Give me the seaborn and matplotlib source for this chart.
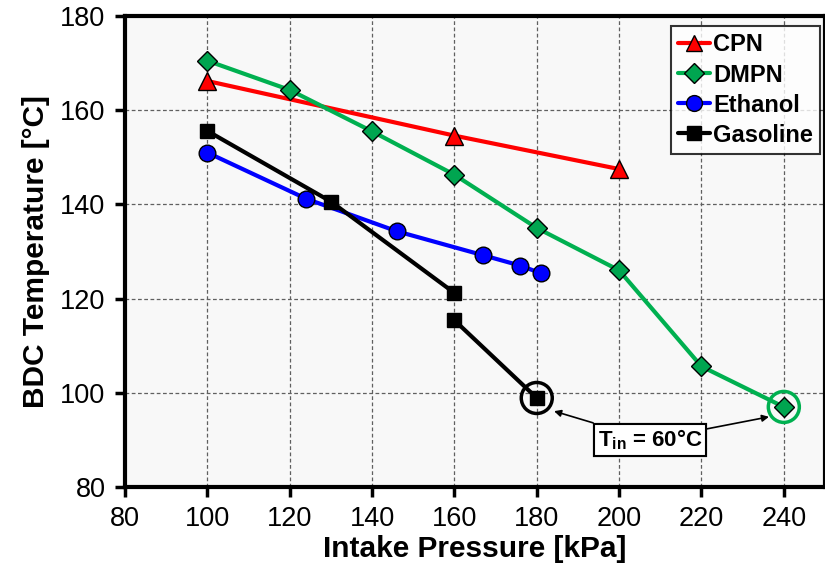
import matplotlib
matplotlib.use("Agg")
import matplotlib.pyplot as plt
import seaborn as sns
import numpy as np
import pandas as pd
from matplotlib.patches import Ellipse

sns.set_theme(style="white")
plt.rcParams['font.family'] = ['Liberation Sans', 'DejaVu Sans']
plt.rcParams['text.color'] = 'black'
plt.rcParams['axes.labelcolor'] = 'black'
plt.rcParams['mathtext.fontset'] = 'custom'
plt.rcParams['mathtext.rm'] = 'Liberation Sans:bold'
plt.rcParams['mathtext.it'] = 'Liberation Sans:bold'
plt.rcParams['mathtext.bf'] = 'Liberation Sans:bold'

cpn_x = [100, 160, 200]
cpn_y = [166.2, 154.6, 147.5]

dmpn_x = [100, 120, 140, 160, 180, 200, 220, 240]
dmpn_y = [170.5, 164.3, 155.5, 146.3, 135.0, 126.0, 105.6, 97.0]

eth_x = [100, 124, 146, 167, 176, 181]
eth_y = [151.0, 141.2, 134.3, 129.2, 127.0, 125.4]

gas_x = [100, 130, 160, 160, 180]
gas_y = [155.6, 140.6, 121.2, 115.4, 98.9]
gas_seg = [0, 0, 0, 1, 1]

series = [
    ("CPN", cpn_x, cpn_y, "#FF0000", "#FF0000", "^", 12.5),
    ("DMPN", dmpn_x, dmpn_y, "#00B050", "#00A550", "D", 10.5),
    ("Ethanol", eth_x, eth_y, "#0000FF", "#0000FF", "o", 12),
    ("Gasoline", gas_x, gas_y, "#000000", "#000000", "s", 10),
]

fig = plt.figure(figsize=(8.25, 5.69), dpi=100)
ax = fig.add_axes([0.1515, 0.1441, 0.8485, 0.8278])
ax.set_facecolor("#F8F8F8")

handles = []
for name, xs, ys, lc, fc, mk, ms in series:
    df = pd.DataFrame({"x": xs, "y": ys})
    df["seg"] = gas_seg if name == "Gasoline" else 0
    for s, sub in df.groupby("seg"):
        sns.lineplot(data=sub, x="x", y="y", ax=ax, color=lc, lw=3,
                     marker=mk, markersize=ms, markerfacecolor=fc,
                     markeredgecolor="black", markeredgewidth=1,
                     sort=False, estimator=None, zorder=3)
    h, = ax.plot([], [], color=lc, lw=3, marker=mk, markersize=ms * 0.95,
                 markerfacecolor=fc, markeredgecolor="black", markeredgewidth=1)
    handles.append((h, name))

ax.set_xlim(80, 250)
ax.set_ylim(80, 180)
ax.set_xticks(np.arange(80, 241, 20))
ax.set_yticks(np.arange(80, 181, 20))
ax.grid(True, color="#606060", linestyle=(0, (3, 2)), linewidth=0.9)
ax.set_axisbelow(True)
for sp in ax.spines.values():
    sp.set_linewidth(3)
    sp.set_color("black")
ax.tick_params(axis="both", direction="out", length=7, width=2.5, labelsize=19.5,
               colors="black", pad=7, left=True, bottom=True)
ax.set_xlabel("Intake Pressure [kPa]", fontsize=21.5, fontweight="bold", labelpad=2)
ax.set_ylabel("BDC Temperature [°C]", fontsize=21.5, fontweight="bold", labelpad=7)

leg = ax.legend([h for h, _ in handles], [n for _, n in handles], loc="upper right",
                bbox_to_anchor=(0.9935, 0.978), frameon=True, fancybox=False,
                prop={"weight": "bold", "size": 17}, handlelength=1.35,
                handletextpad=0.15, borderpad=0.3, labelspacing=0.3,
                borderaxespad=0)
leg.get_frame().set_edgecolor("black")
leg.get_frame().set_linewidth(1.5)
leg.get_frame().set_facecolor("white")

# circles around the T_in = 60°C points
def px_circle(xd, yd, r_px, color):
    x0, y0 = ax.transData.transform((xd, yd))
    x1, y1 = ax.transData.inverted().transform((x0 + r_px, y0 + r_px))
    e = Ellipse((xd, yd), 2 * (x1 - xd), 2 * (y1 - yd), fill=False,
                edgecolor=color, lw=2.5, zorder=4)
    ax.add_patch(e)

px_circle(180, 98.9, 15.5, "black")
px_circle(240, 97.0, 15.5, "#00B050")

bbox = dict(boxstyle="square,pad=0.18", fc="white", ec="black", lw=1.5)
label = "T$_{in}$ = 60°C"
for target in [(184.2, 96.1), (236.4, 94.9)]:
    ax.annotate(label, xy=target, xytext=(207.5, 90.0),
                fontsize=16, fontweight="bold", ha="center", va="center", bbox=bbox,
                arrowprops=dict(arrowstyle="-|>", color="black", lw=1.2,
                                mutation_scale=10, shrinkA=0, shrinkB=0), zorder=5)

fig.savefig("out.png", dpi=100)
